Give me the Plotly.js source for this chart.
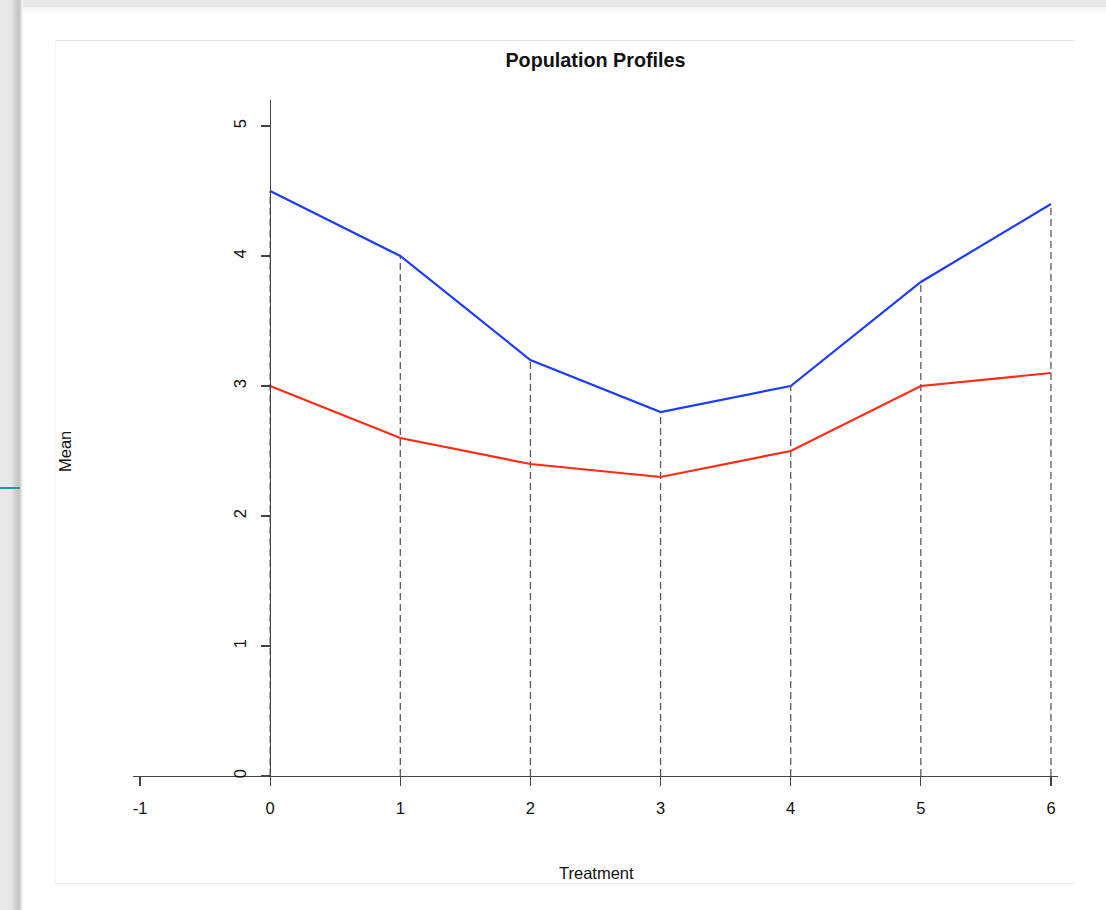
<!DOCTYPE html>
<html>
<head>
<meta charset="utf-8">
<script src="https://cdn.plot.ly/plotly-3.0.1.min.js"></script>
<style>
  html, body { margin: 0; padding: 0; background: #ffffff; width: 1106px; height: 910px; overflow: hidden; }
  #topstrip { position: absolute; left: 0; top: 0; width: 1106px; height: 7px; background: #e8e8e8; }
  #topshade { position: absolute; left: 22px; top: 7px; width: 1084px; height: 8px; background: linear-gradient(to bottom, #f3f3f3, #ffffff); }
  #leftstrip { position: absolute; left: 0; top: 0; width: 23px; height: 910px;
    background: linear-gradient(to right, #e9e9e9 0px, #e7e7e7 11px, #d2d2d2 15px, #c4c4c4 19px, #dcdcdc 21px, #ffffff 23px); }
  #teal { position: absolute; left: 0; top: 487px; width: 20px; height: 2px; background: #1d9ba0; }
  #panel { position: absolute; left: 55px; top: 40px; width: 1019px; height: 842px;
    border-top: 1px solid #e3e3e3; border-bottom: 1px solid #ececec; border-left: 1px solid #f4f4f4; }
  #chart { position: absolute; left: 0; top: 0; width: 1106px; height: 910px; }
</style>
</head>
<body>
<div id="topstrip"></div>
<div id="topshade"></div>
<div id="leftstrip"></div>
<div id="teal"></div>
<div id="panel"></div>
<div id="chart"></div>
<script>
// Data
const treatment = [0, 1, 2, 3, 4, 5, 6];
const profileA = [4.5, 4.0, 3.2, 2.8, 3.0, 3.8, 4.4];   // blue
const profileB = [3.0, 2.6, 2.4, 2.3, 2.5, 3.0, 3.1];   // red
const xTicks = [-1, 0, 1, 2, 3, 4, 5, 6];
const yTicks = [0, 1, 2, 3, 4, 5];

// dashed drop lines from the upper profile to zero
const dropX = [], dropY = [];
treatment.forEach((t, i) => {
  dropX.push(t, t, null);
  dropY.push(0, Math.max(profileA[i], profileB[i]), null);
});

const FONT = "Liberation Sans, Arial, Helvetica, sans-serif";

const traces = [
  { x: dropX, y: dropY, mode: 'lines', type: 'scatter', showlegend: false, hoverinfo: 'skip',
    line: { color: '#5a5a5a', width: 1.3, dash: '7px,4px' } },
  { x: treatment, y: profileA, mode: 'lines', type: 'scatter', name: 'Profile 1', showlegend: false,
    line: { color: '#1b3cff', width: 2.2 } },
  { x: treatment, y: profileB, mode: 'lines', type: 'scatter', name: 'Profile 2', showlegend: false,
    line: { color: '#ff2a14', width: 2.2 } }
];

const L = 133, R = 48, T = 100, B = 134;
const plotW = 1106 - L - R, plotH = 910 - T - B;
const xr = [-1.054, 6.054];
const yAxisPos = (0 - xr[0]) / (xr[1] - xr[0]);

const layout = {
  width: 1106, height: 910,
  paper_bgcolor: 'rgba(0,0,0,0)', plot_bgcolor: 'rgba(0,0,0,0)',
  margin: { l: L, r: R, t: T, b: B, pad: 0 },
  font: { family: FONT, color: '#111111', size: 16 },
  title: { text: '<b>Population Profiles</b>', x: 0.5, xref: 'paper', xanchor: 'center',
           y: 1 - 60 / 910, yref: 'container', yanchor: 'middle',
           font: { family: FONT, size: 19.8, color: '#111111' } },
  xaxis: {
    range: xr, tickvals: xTicks, ticktext: xTicks.map(String),
    ticks: 'outside', ticklen: 9, tickwidth: 1.3, tickcolor: '#444444',
    showline: true, linecolor: '#444444', linewidth: 1.3,
    showgrid: false, zeroline: false, fixedrange: true,
    tickfont: { family: FONT, size: 16.5, color: '#111111' },
    ticklabelstandoff: 8
  },
  yaxis: {
    range: [0, 5.2], tickvals: yTicks, ticktext: yTicks.map(String),
    anchor: 'free', position: yAxisPos,
    ticks: 'outside', ticklen: 9, tickwidth: 1.3, tickcolor: '#444444',
    showline: true, linecolor: '#444444', linewidth: 1.3,
    showgrid: false, zeroline: false, fixedrange: true, tickangle: -90,
    tickfont: { family: FONT, size: 16.5, color: '#111111' },
    ticklabelstandoff: 9
  },
  annotations: [
    { text: 'Treatment', xref: 'paper', yref: 'paper',
      x: (596 - L) / plotW, y: (910 - B - 873) / plotH, xanchor: 'center', yanchor: 'middle',
      showarrow: false, font: { family: FONT, size: 16.5, color: '#111111' } },
    { text: 'Mean', xref: 'paper', yref: 'paper', textangle: -90,
      x: (65 - L) / plotW, y: (910 - B - 452) / plotH, xanchor: 'center', yanchor: 'middle',
      showarrow: false, font: { family: FONT, size: 16.5, color: '#111111' } }
  ]
};

Plotly.newPlot('chart', traces, layout, { displayModeBar: false, staticPlot: true });
</script>
</body>
</html>
